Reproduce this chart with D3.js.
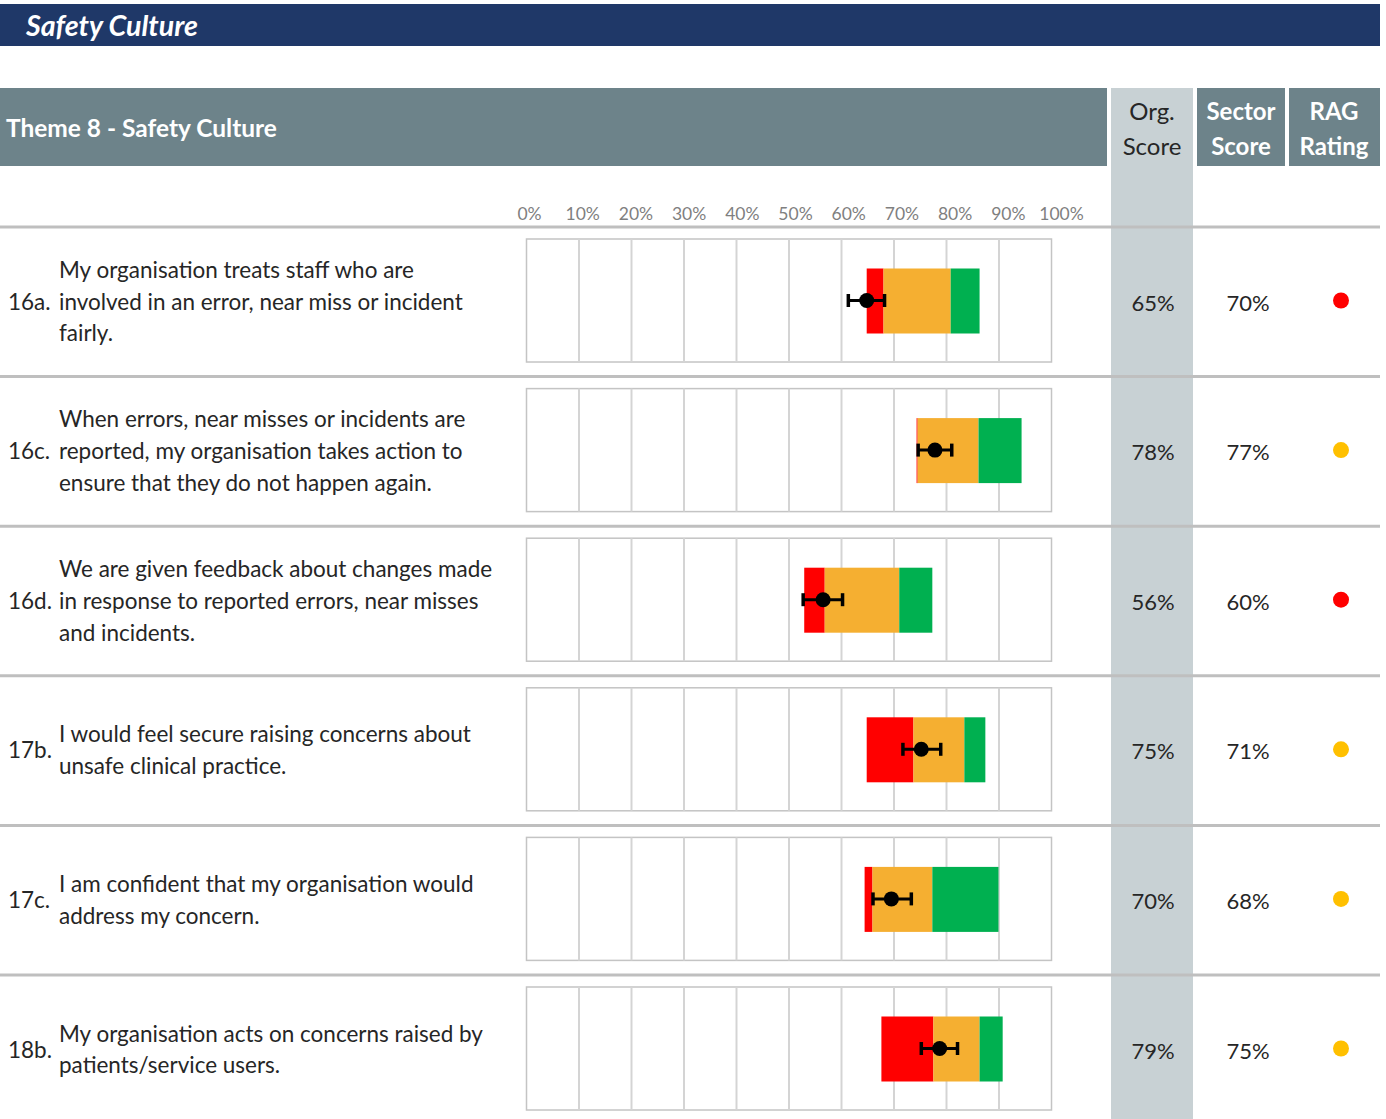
<!DOCTYPE html>
<html>
<head>
<meta charset="utf-8">
<script src="https://cdn.jsdelivr.net/npm/d3@7"></script>
<style>
  html, body { margin: 0; padding: 0; background: #fff; }
  svg { display: block; }
  text { font-family: Lato, "Open Sans", sans-serif; }
</style>
</head>
<body>
<svg id="chart" width="1386" height="1119"></svg>
<script>
// ---------------- DATA ----------------
const pageTitle = "Safety Culture";
const themeTitle = "Theme 8 - Safety Culture";
const colHeaders = [["Org.", "Score"], ["Sector", "Score"], ["RAG", "Rating"]];
const tickValues = [0, 10, 20, 30, 40, 50, 60, 70, 80, 90, 100];
const tickLabels = ["0%", "10%", "20%", "30%", "40%", "50%", "60%", "70%", "80%", "90%", "100%"];

const questionIds = ["16a.", "16c.", "16d.", "17b.", "17c.", "18b."];
const questionLines = [
  ["My organisation treats staff who are", "involved in an error, near miss or incident", "fairly."],
  ["When errors, near misses or incidents are", "reported, my organisation takes action to", "ensure that they do not happen again."],
  ["We are given feedback about changes made", "in response to reported errors, near misses", "and incidents."],
  ["I would feel secure raising concerns about", "unsafe clinical practice."],
  ["I am confident that my organisation would", "address my concern."],
  ["My organisation acts on concerns raised by", "patients/service users."]
];
// band boundaries (%): start of red, red->amber, amber->green, end of green
const bandStart  = [64.8, 74.3, 52.9, 64.8, 64.4, 67.6];
const redEnd     = [68.0, 74.5, 56.8, 73.7, 65.9, 77.5];
const amberEnd   = [80.8, 86.1, 71.0, 83.4, 77.3, 86.3];
const greenEnd   = [86.3, 94.3, 77.3, 87.4, 89.9, 90.7];
// organisation score point with confidence interval (%)
const pointValue = [64.8, 77.8, 56.5, 75.2, 69.5, 78.7];
const ciLow      = [61.3, 74.6, 52.7, 71.7, 66.0, 75.2];
const ciHigh     = [68.2, 81.0, 60.2, 78.9, 73.3, 82.1];
const orgScore    = ["65%", "78%", "56%", "75%", "70%", "79%"];
const sectorScore = ["70%", "77%", "60%", "71%", "68%", "75%"];
const ragRating   = ["red", "amber", "red", "amber", "amber", "amber"];

// ---------------- STYLE / LAYOUT ----------------
const C = {
  navy: "#1f3868", head: "#6d838a", orgCol: "#c8d1d4", sep: "#bfbfbf",
  text: "#262626", tick: "#7f7f7f", grid: "#d4d4d4", box: "#c4c4c4",
  red: "#ff0000", amber: "#f5af31", green: "#00b050", ragAmber: "#ffc000"
};
const svg = d3.select("#chart");
const rowTop0 = 227, rowH = 149.6;
const rowTops = questionIds.map((d, i) => rowTop0 + i * rowH);

const x = d3.scaleLinear().domain([0, 100]).range([526.5, 1051.5]);
const xLab = d3.scaleLinear().domain([0, 100]).range([529, 1061]);

// fit a text element to a target width by adjusting font-size
function fitWidth(sel, target) {
  const n = sel.node();
  const w = n.getComputedTextLength();
  const fs = parseFloat(sel.attr("font-size"));
  if (w > 0) sel.attr("font-size", fs * target / w);
}

// title bar
svg.append("rect").attr("x", 0).attr("y", 4).attr("width", 1380).attr("height", 42).attr("fill", C.navy);
const title = svg.append("text").attr("x", 26).attr("y", 25).attr("dominant-baseline", "central")
  .attr("fill", "#fff").attr("font-size", 26).attr("font-weight", "bold").attr("font-style", "italic")
  .attr("font-family", "'Open Sans', sans-serif")
  .text(pageTitle);
fitWidth(title, 172);

// org column background (full height)
svg.append("rect").attr("x", 1111).attr("y", 88).attr("width", 82).attr("height", 1119 - 88).attr("fill", C.orgCol);

// header cells
svg.append("rect").attr("x", 0).attr("y", 88).attr("width", 1107).attr("height", 78).attr("fill", C.head);
const theme = svg.append("text").attr("x", 6).attr("y", 127).attr("dominant-baseline", "central")
  .attr("fill", "#fff").attr("font-size", 22).attr("font-weight", "bold")
  .attr("font-family", "'Open Sans', sans-serif").text(themeTitle);
fitWidth(theme, 271);
svg.append("rect").attr("x", 1197).attr("y", 88).attr("width", 88).attr("height", 78).attr("fill", C.head);
svg.append("rect").attr("x", 1289).attr("y", 88).attr("width", 91).attr("height", 78).attr("fill", C.head);

const headCenters = [1152, 1241, 1334];
colHeaders.forEach((lines, i) => {
  const t = svg.append("text").attr("text-anchor", "middle").attr("font-size", 24)
    .attr("fill", i === 0 ? C.text : "#fff").attr("font-weight", i === 0 ? "normal" : "bold");
  lines.forEach((l, j) => t.append("tspan").attr("x", headCenters[i]).attr("y", 110 + j * 35)
    .attr("dominant-baseline", "central").text(l));
});

// tick labels via d3 axis
const axis = d3.axisTop(xLab).tickValues(tickValues).tickSize(0)
  .tickFormat((d, i) => tickLabels[i]);
const gAxis = svg.append("g").attr("transform", "translate(0,213)").call(axis);
gAxis.select(".domain").remove();
gAxis.selectAll("text").attr("font-family", "Lato, 'Open Sans', sans-serif")
  .attr("font-size", 17.5).attr("fill", C.tick).attr("dy", null).attr("y", 0)
  .attr("dominant-baseline", "central");

// question text font size: fit reference line width
const probe = svg.append("text").attr("font-size", 20).attr("font-family", "'Open Sans', sans-serif")
  .text(questionLines[0][1]);
const qFont = 20 * 404 / probe.node().getComputedTextLength();
probe.remove();

// rows
questionIds.forEach((id, i) => {
  const top = rowTops[i];
  const cy = top + 74;
  const g = svg.append("g");

  // separator line
  g.append("line").attr("x1", 0).attr("x2", 1380).attr("y1", top).attr("y2", top)
    .attr("stroke", C.sep).attr("stroke-width", 3);

  // question id & text
  g.append("text").attr("x", 8).attr("y", cy).attr("dominant-baseline", "central")
    .attr("font-family", "'Open Sans', sans-serif")
    .attr("font-size", qFont).attr("fill", C.text).text(id);
  const lines = questionLines[i];
  const lh = 31.8;
  lines.forEach((l, j) => {
    g.append("text").attr("x", 59).attr("y", cy + (j - (lines.length - 1) / 2) * lh)
      .attr("font-family", "'Open Sans', sans-serif")
      .attr("dominant-baseline", "central").attr("font-size", qFont).attr("fill", C.text).text(l);
  });

  // chart box
  const bTop = top + 12, bH = 123;
  g.append("rect").attr("x", x(0)).attr("y", bTop).attr("width", x(100) - x(0)).attr("height", bH)
    .attr("fill", "#fff").attr("stroke", C.box).attr("stroke-width", 1.5);
  tickValues.slice(1, -1).forEach(v => {
    g.append("line").attr("x1", x(v)).attr("x2", x(v)).attr("y1", bTop).attr("y2", bTop + bH)
      .attr("stroke", C.grid).attr("stroke-width", 2);
  });

  // stacked bands
  const barTop = cy - 32.5, barH = 65;
  const bands = [
    [bandStart[i], redEnd[i], C.red],
    [redEnd[i], amberEnd[i], C.amber],
    [amberEnd[i], greenEnd[i], C.green]
  ];
  bands.forEach(([a, b, col]) => {
    g.append("rect").attr("x", x(a)).attr("y", barTop).attr("width", Math.max(0, x(b) - x(a)))
      .attr("height", barH).attr("fill", col);
  });

  // error bar + point
  const py = cy - 0.5;
  g.append("line").attr("x1", x(ciLow[i])).attr("x2", x(ciHigh[i])).attr("y1", py).attr("y2", py)
    .attr("stroke", "#000").attr("stroke-width", 3);
  [ciLow[i], ciHigh[i]].forEach(v => {
    g.append("line").attr("x1", x(v)).attr("x2", x(v)).attr("y1", py - 6.5).attr("y2", py + 6.5)
      .attr("stroke", "#000").attr("stroke-width", 3.5);
  });
  g.append("circle").attr("cx", x(pointValue[i])).attr("cy", py).attr("r", 7.5).attr("fill", "#000");

  // scores and RAG
  g.append("text").attr("x", 1153).attr("y", cy + 1).attr("text-anchor", "middle")
    .attr("dominant-baseline", "central").attr("font-size", 22).attr("fill", C.text).text(orgScore[i]);
  g.append("text").attr("x", 1248).attr("y", cy + 1).attr("text-anchor", "middle")
    .attr("dominant-baseline", "central").attr("font-size", 22).attr("fill", C.text).text(sectorScore[i]);
  g.append("circle").attr("cx", 1341).attr("cy", cy - 0.5).attr("r", 8)
    .attr("fill", ragRating[i] === "red" ? C.red : C.ragAmber);
});
</script>
</body>
</html>
